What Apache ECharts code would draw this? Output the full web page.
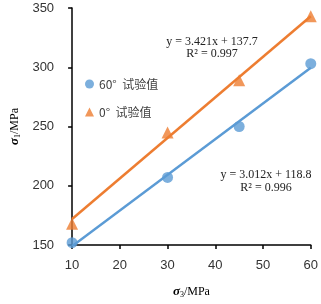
<!DOCTYPE html>
<html>
<head>
<meta charset="utf-8">
<script src="https://cdn.jsdelivr.net/npm/echarts@6/dist/echarts.min.js"></script>
<style>
    html, body { margin: 0; padding: 0; background: #fff; }
    #chart { width: 321px; height: 304px; }
</style>
</head>
<body>
<div id="chart"></div>
<script>
    // confining pressure (sigma3) and peak strength (sigma1), MPa
    var sigma3 = [10, 30, 45, 60];
    var sigma1_60 = [152, 207, 250, 303];
    var sigma1_0 = [168, 245, 289, 343];
    // trend line ends
    var trendX = [10, 60];
    var trend_60 = [149, 299.5];
    var trend_0 = [172, 343];
    var seriesNames = ['60°  试验值', '0°  试验值'];
    var eqText60 = ['y = 3.012x + 118.8', 'R² = 0.996'];
    var eqText0 = ['y = 3.421x + 137.7', 'R² = 0.997'];

    var blue = '#5B9BD5';
    var orange = '#ED7D31';

    function pairs(xs, ys) {
        var out = [];
        for (let i = 0; i < xs.length; i++) {
            out.push([xs[i], ys[i]]);
        }
        return out;
    }

    var labelFont = { color: '#333', fontFamily: 'Liberation Sans', fontSize: 13 };
    var eqFont = '12px "Liberation Serif"';
    var nameRich = {
        b: { fontFamily: 'Liberation Serif', fontStyle: 'italic', fontWeight: 'bold', fontSize: 13, color: '#000' },
        s: { fontFamily: 'Liberation Serif', fontSize: 8, color: '#000', padding: [6, 0, 0, 0] },
        n: { fontFamily: 'Liberation Serif', fontSize: 12, color: '#000' }
    };

    var option = {
        animation: false,
        grid: { left: 54, right: 10, top: 8, bottom: 57 },
        legend: {
            orient: 'vertical',
            left: 80,
            top: 73,
            itemWidth: 9,
            itemHeight: 9,
            itemGap: 16,
            data: seriesNames,
            textStyle: { color: '#404040', fontSize: 12, fontFamily: 'Noto Sans CJK SC' }
        },
        xAxis: {
            type: 'value',
            min: 10,
            max: 60,
            interval: 10,
            splitLine: { show: false },
            axisLine: { lineStyle: { color: '#000', width: 1.5 } },
            axisTick: { length: 4, lineStyle: { color: '#000', width: 1.5 } },
            axisLabel: Object.assign({ margin: 14 }, labelFont),
            name: '{b|σ}{s|3}{n|/MPa}',
            nameLocation: 'middle',
            nameGap: 40,
            nameTextStyle: { rich: nameRich }
        },
        yAxis: {
            type: 'value',
            min: 150,
            max: 350,
            interval: 50,
            splitLine: { show: false },
            axisLine: { show: true, lineStyle: { color: '#000', width: 1.5 } },
            axisTick: { show: true, length: 4, lineStyle: { color: '#000', width: 1.5 } },
            axisLabel: Object.assign({ margin: 18 }, labelFont),
            name: '{b|σ}{s|1}{n|/MPa}',
            nameLocation: 'middle',
            nameRotate: 90,
            nameGap: 44,
            nameTextStyle: { rich: nameRich }
        },
        graphic: [
            { type: 'text', x: 212, y: 42, style: { text: eqText0[0], font: eqFont, fill: '#222', textAlign: 'center', textVerticalAlign: 'middle' } },
            { type: 'text', x: 212, y: 54, style: { text: eqText0[1], font: eqFont, fill: '#222', textAlign: 'center', textVerticalAlign: 'middle' } },
            { type: 'text', x: 266, y: 175, style: { text: eqText60[0], font: eqFont, fill: '#222', textAlign: 'center', textVerticalAlign: 'middle' } },
            { type: 'text', x: 266, y: 188, style: { text: eqText60[1], font: eqFont, fill: '#222', textAlign: 'center', textVerticalAlign: 'middle' } }
        ],
        series: [
            {
                name: 'trend60',
                type: 'line',
                data: pairs(trendX, trend_60),
                showSymbol: false,
                lineStyle: { color: blue, width: 2.5 },
                z: 2
            },
            {
                name: 'trend0',
                type: 'line',
                data: pairs(trendX, trend_0),
                showSymbol: false,
                lineStyle: { color: orange, width: 2.5 },
                z: 2
            },
            {
                name: seriesNames[0],
                type: 'scatter',
                data: pairs(sigma3, sigma1_60),
                symbol: 'circle',
                symbolSize: 11,
                itemStyle: { color: blue },
                z: 3
            },
            {
                name: seriesNames[1],
                type: 'scatter',
                data: pairs(sigma3, sigma1_0),
                symbol: 'triangle',
                symbolSize: 12,
                itemStyle: { color: orange },
                z: 3
            }
        ]
    };

    echarts.init(document.getElementById('chart'), null, { renderer: 'canvas' }).setOption(option);
</script>
</body>
</html>
